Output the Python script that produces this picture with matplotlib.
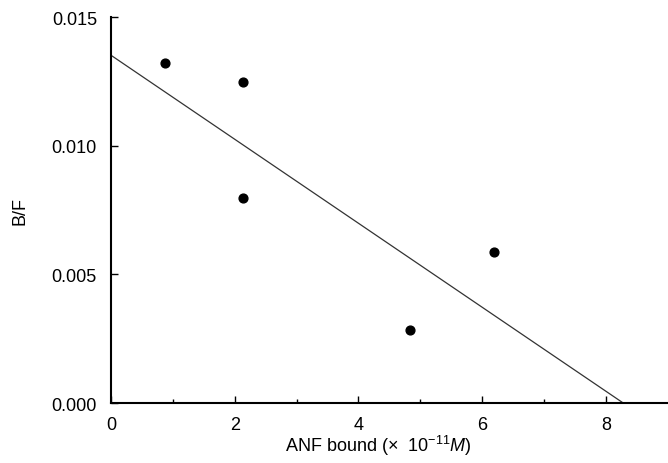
import numpy as np
import matplotlib.pyplot as plt

plt.rcParams['font.family'] = ['Liberation Sans', 'DejaVu Sans']
plt.rcParams['mathtext.fontset'] = 'custom'
plt.rcParams['mathtext.rm'] = 'Liberation Sans'
plt.rcParams['mathtext.it'] = 'Liberation Sans:italic'

# Scatchard data
anf_bound = [0.88, 2.13, 2.13, 4.83, 6.19]
bf_ratio = [0.0132, 0.01247, 0.00798, 0.00284, 0.00588]

# fitted line (end points)
line_x = [0.0, 8.28]
line_y = [0.01352, 0.0]

fig = plt.figure(figsize=(6.68, 4.64), dpi=100)
ax = fig.add_axes([0.166, 0.129, 0.834, 0.832])

ax.plot(line_x, line_y, color='#333333', lw=0.9)
ax.scatter(anf_bound, bf_ratio, s=40, color='black', zorder=3)

ax.set_xlim(0, 9)
ax.set_ylim(0, 0.015)
ax.set_xticks([0, 2, 4, 6, 8])
ax.set_xticks([1, 3, 5, 7], minor=True)
ax.set_yticks([0, 0.005, 0.010, 0.015])
ax.set_yticklabels(['0.000', '0.005', '0.010', '0.015'])

for s in ['top', 'right']:
    ax.spines[s].set_visible(False)
for s in ['left', 'bottom']:
    ax.spines[s].set_linewidth(1.5)

ax.tick_params(direction='in', length=5, width=1, labelsize=13)
ax.tick_params(axis='y', pad=10)
ax.tick_params(axis='x', pad=9)
ax.tick_params(which='minor', direction='in', length=3, width=1)

ax.set_xlabel(r'ANF bound ($\times$  $\mathit{10^{-11}M}$)', fontsize=13)
ax.xaxis.set_label_coords(0.48, -0.077)
ax.set_ylabel('B/F', fontsize=13)
ax.yaxis.set_label_coords(-0.148, 0.5)

fig.savefig('out.png', dpi=100)
